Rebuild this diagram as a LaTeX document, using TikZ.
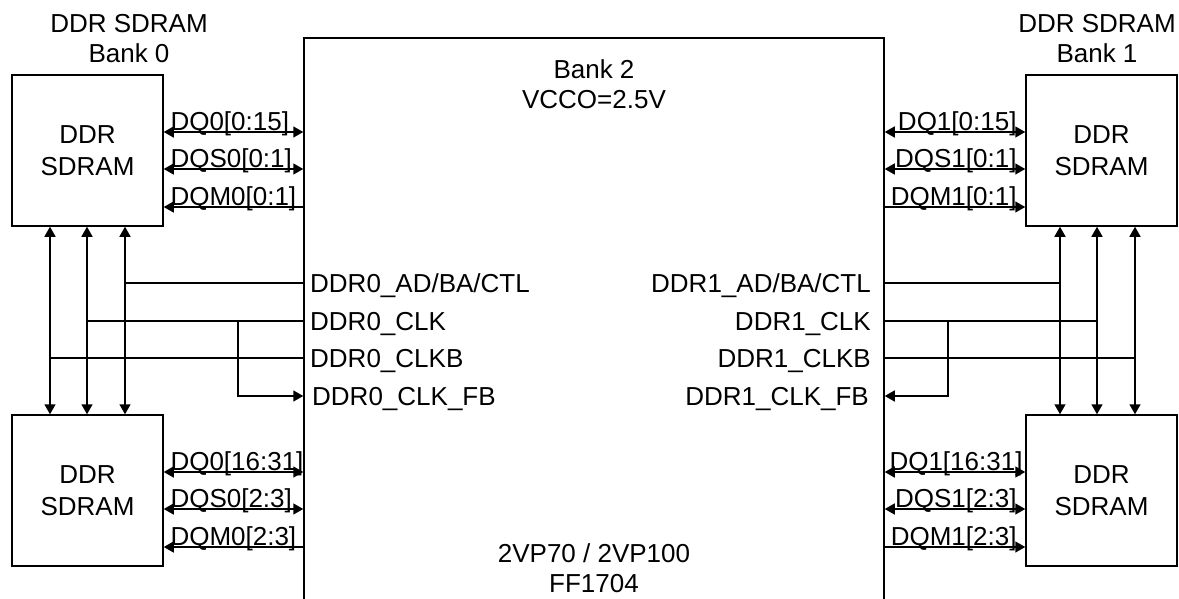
\documentclass[tikz,border=0pt]{standalone}
\usepackage{fontspec}
\setmainfont{Liberation Sans}
\usepackage{tikz}
\usetikzlibrary{arrows.meta, positioning}
\tikzstyle{sdram} = [rectangle, draw=black, line width=1.5pt, minimum width=151pt, minimum height=151pt, align=center, inner sep=0pt]
\tikzstyle{fpga} = [rectangle, draw=black, line width=1.5pt, minimum width=580pt, minimum height=580pt, inner sep=0pt]
\tikzstyle{wire} = [line width=1.5pt]
\tikzstyle{arrow} = [line width=1.5pt,-{Triangle[length=10pt,width=11pt]}]
\tikzstyle{backarrow} = [line width=1.5pt,{Triangle[length=10pt,width=11pt]}-]
\tikzstyle{biarrow} = [line width=1.5pt,{Triangle[length=10pt,width=11pt]}-{Triangle[length=10pt,width=11pt]}]
\tikzstyle{sigl} = [anchor=base west, inner sep=0pt, yshift=1.5pt, xshift=6pt]
\tikzstyle{sigr} = [anchor=base east, inner sep=0pt, yshift=1.5pt, xshift=-8pt]
\tikzstyle{pinl} = [anchor=base west, inner sep=0pt, yshift=-9pt]
\tikzstyle{pinr} = [anchor=base east, inner sep=0pt, yshift=-9pt]

\begin{document}
\begin{tikzpicture}[x=1pt, y=-1pt, every node/.style={font=\fontsize{26}{30}\selectfont}]
\useasboundingbox (0,0) rectangle (1179,598);

% --------- Chips ----------
\node (FPGA) [fpga] at (594,328) {};
\node (SD0A) [sdram] at (87.5,150.5) {DDR\\[2pt]SDRAM};
\node (SD0B) [sdram] at (87.5,490.5) {DDR\\[2pt]SDRAM};
\node (SD1A) [sdram] at (1101.5,150.5) {DDR\\[2pt]SDRAM};
\node (SD1B) [sdram] at (1101.5,490.5) {DDR\\[2pt]SDRAM};

% --------- Titles ----------
\node (T0) [align=center, inner sep=0pt] at (129,39) {DDR SDRAM\\Bank 0};
\node (T1) [align=center, inner sep=0pt] at (1097,39) {DDR SDRAM\\Bank 1};
\node (BANK2) [align=center, inner sep=0pt] at (594,84) {Bank 2\\VCCO=2.5V};
\node (PART) [align=center, inner sep=0pt] at (594,568) {2VP70 / 2VP100\\FF1704};

% --------- Data lanes, bank 0 ----------
\draw [biarrow] (SD0A.east |- 0,132) -- (FPGA.west |- 0,132) node[sigl, pos=0]{DQ0[0:15]};
\draw [biarrow] (SD0A.east |- 0,169) -- (FPGA.west |- 0,169) node[sigl, pos=0]{DQS0[0:1]};
\draw [backarrow] (SD0A.east |- 0,207) -- (FPGA.west |- 0,207) node[sigl, pos=0]{DQM0[0:1]};
\draw [biarrow] (SD0B.east |- 0,472) -- (FPGA.west |- 0,472) node[sigl, pos=0]{DQ0[16:31]};
\draw [biarrow] (SD0B.east |- 0,509) -- (FPGA.west |- 0,509) node[sigl, pos=0]{DQS0[2:3]};
\draw [backarrow] (SD0B.east |- 0,547) -- (FPGA.west |- 0,547) node[sigl, pos=0]{DQM0[2:3]};

% --------- Data lanes, bank 1 ----------
\draw [biarrow] (FPGA.east |- 0,132) -- (SD1A.west |- 0,132) node[sigr, pos=1]{DQ1[0:15]};
\draw [biarrow] (FPGA.east |- 0,169) -- (SD1A.west |- 0,169) node[sigr, pos=1]{DQS1[0:1]};
\draw [arrow] (FPGA.east |- 0,207) -- (SD1A.west |- 0,207) node[sigr, pos=1]{DQM1[0:1]};
\draw [biarrow] (FPGA.east |- 0,472) -- (SD1B.west |- 0,472) node[sigr, pos=1, xshift=6pt]{DQ1[16:31]};
\draw [biarrow] (FPGA.east |- 0,509) -- (SD1B.west |- 0,509) node[sigr, pos=1]{DQS1[2:3]};
\draw [arrow] (FPGA.east |- 0,547) -- (SD1B.west |- 0,547) node[sigr, pos=1]{DQM1[2:3]};

% --------- Pin names ----------
\node (P0AD)  [pinl] at (310,283) {DDR0\_AD/BA/CTL};
\node (P0CK)  [pinl] at (310,321) {DDR0\_CLK};
\node (P0CKB) [pinl] at (310,358) {DDR0\_CLKB};
\node (P0FB)  [pinl] at (312,396) {DDR0\_CLK\_FB};
\node (P1AD)  [pinr] at (871,283) {DDR1\_AD/BA/CTL};
\node (P1CK)  [pinr] at (871,321) {DDR1\_CLK};
\node (P1CKB) [pinr] at (871,358) {DDR1\_CLKB};
\node (P1FB)  [pinr] at (869,396) {DDR1\_CLK\_FB};

% --------- Shared buses, bank 0 ----------
\draw [biarrow] (SD0A.south -| 50,0) -- (SD0B.north -| 50,0);
\draw [biarrow] (SD0A.south -| 87,0) -- (SD0B.north -| 87,0);
\draw [biarrow] (SD0A.south -| 125,0) -- (SD0B.north -| 125,0);
\draw [wire] (FPGA.west |- 0,283) -- (125,283);
\draw [wire] (FPGA.west |- 0,321) -- (87,321);
\draw [wire] (FPGA.west |- 0,358) -- (50,358);
\coordinate (FB0) at (238,321);
\draw [arrow] (FB0) |- (FPGA.west |- 0,396);

% --------- Shared buses, bank 1 ----------
\draw [biarrow] (SD1A.south -| 1060,0) -- (SD1B.north -| 1060,0);
\draw [biarrow] (SD1A.south -| 1097,0) -- (SD1B.north -| 1097,0);
\draw [biarrow] (SD1A.south -| 1135,0) -- (SD1B.north -| 1135,0);
\draw [wire] (FPGA.east |- 0,283) -- (1060,283);
\draw [wire] (FPGA.east |- 0,321) -- (1097,321);
\draw [wire] (FPGA.east |- 0,358) -- (1135,358);
\coordinate (FB1) at (948,321);
\draw [arrow] (FB1) |- (FPGA.east |- 0,396);

\end{tikzpicture}
\end{document}
